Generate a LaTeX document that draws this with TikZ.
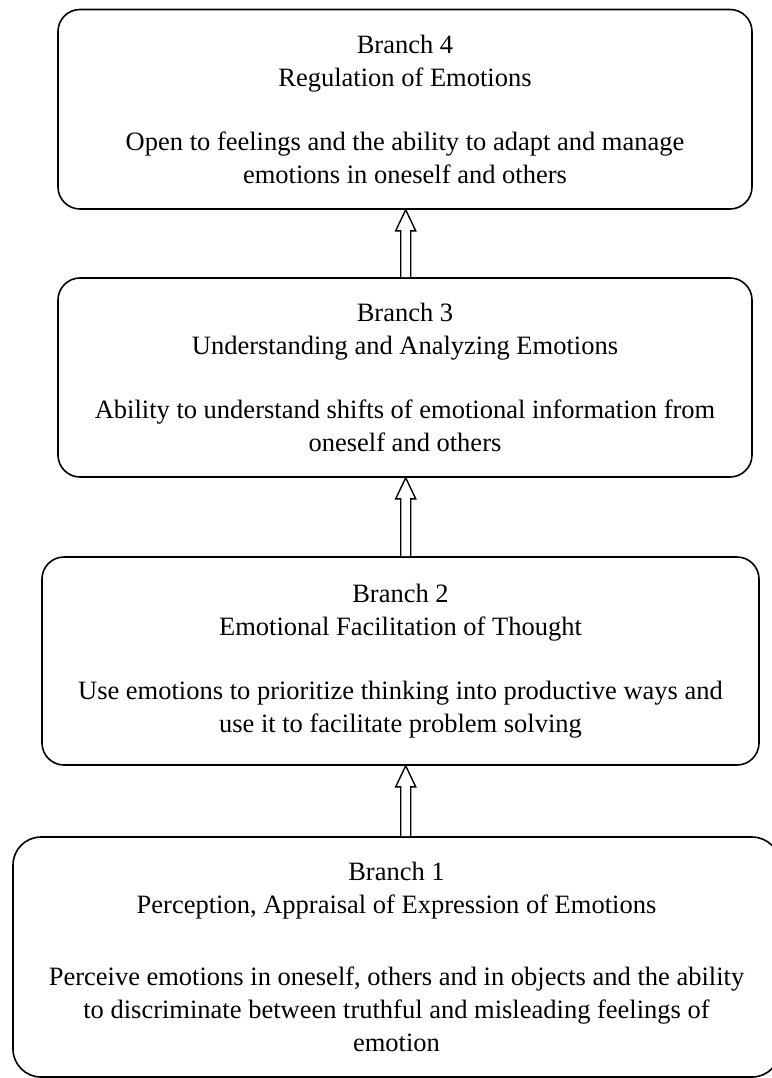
\documentclass[tikz,border=0pt]{standalone}
\usepackage{fontspec}
\setmainfont{Liberation Serif}
\usetikzlibrary{calc}
\newcommand{\hollowup}[2]{%
  \draw[hollowarrow] let \p1=(#1.north -| ax), \p2=(#2.south -| ax) in
    (\x1-5pt,\y1) -- (\x1-5pt,\y2-21pt) -- (\x1-10pt,\y2-21pt) -- (\x2,\y2)
    -- (\x1+10pt,\y2-21pt) -- (\x1+5pt,\y2-21pt) -- (\x1+5pt,\y1);}
\begin{document}
\begin{tikzpicture}[x=1pt,y=-1pt,
  branchbox/.style={draw=black, line width=1.6pt, rounded corners=22pt,
    align=center, inner sep=0pt, font=\fontsize{26.5}{33}\selectfont},
  hollowarrow/.style={draw=black, line width=1.4pt, fill=white, line join=miter}]
\useasboundingbox (0,0) rectangle (771,1078);
\coordinate (ax) at (405.7,0);
\node[branchbox, minimum width=694pt, minimum height=199.5pt] (b4) at (405,109.25)
  {Branch 4\\Regulation of Emotions\\[31pt]Open to feelings and the ability to adapt and manage\\emotions in oneself and others};
\node[branchbox, minimum width=694pt, minimum height=199pt] (b3) at (405,377.5)
  {Branch 3\\Understanding and Analyzing Emotions\\[31pt]Ability to understand shifts of emotional information from\\oneself and others};
\node[branchbox, minimum width=717pt, minimum height=208pt] (b2) at (400.5,661)
  {Branch 2\\Emotional Facilitation of Thought\\[31pt]Use emotions to prioritize thinking into productive ways and\\use it to facilitate problem solving};
\node[branchbox, rounded corners=28pt, minimum width=767pt, minimum height=240pt] (b1) at (396.5,957)
  {Branch 1\\Perception, Appraisal of Expression of Emotions\\[39pt]Perceive emotions in oneself, others and in objects and the ability\\to discriminate between truthful and misleading feelings of\\emotion};
\hollowup{b3}{b4}
\hollowup{b2}{b3}
\hollowup{b1}{b2}
\end{tikzpicture}
\end{document}
